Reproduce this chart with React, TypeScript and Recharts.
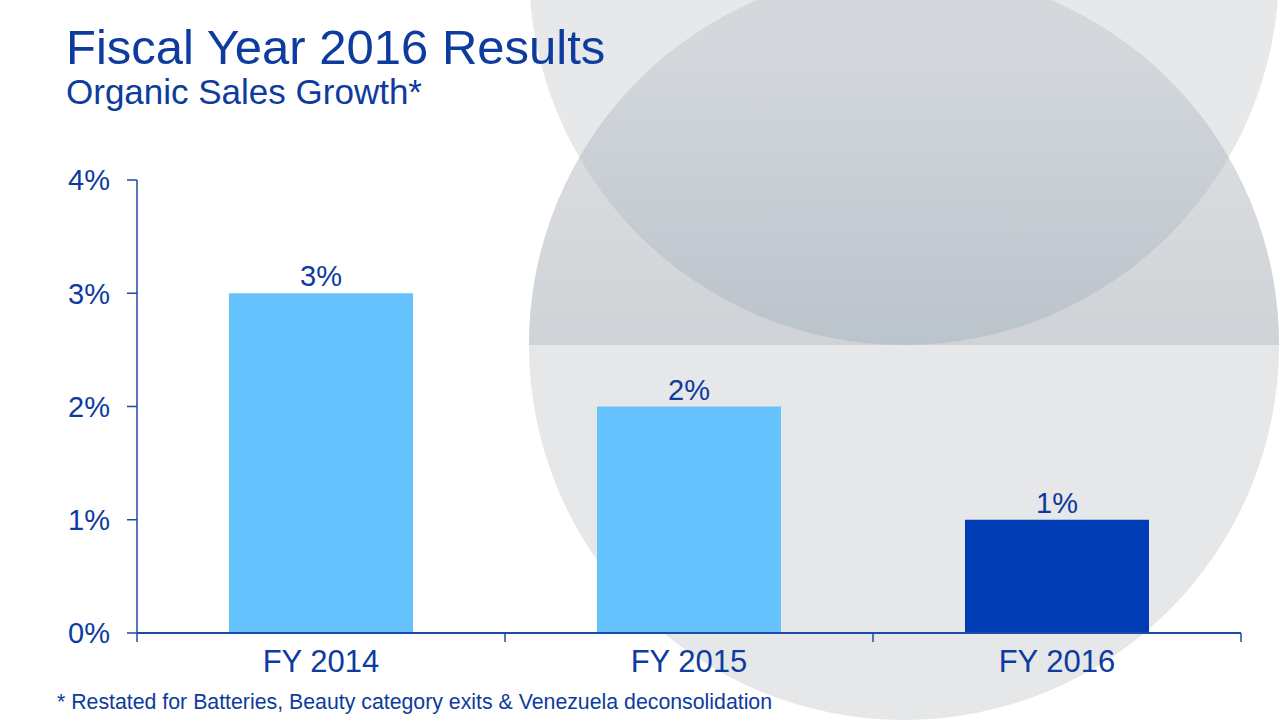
import { Bar, BarChart, Cell, LabelList, XAxis, YAxis } from "recharts"

const categories = ["FY 2014", "FY 2015", "FY 2016"]
const growth = [3, 2, 1]
const barColors = ["#66c2fd", "#66c2fd", "#003cb4"]
const yTicks = [0, 1, 2, 3, 4]

const data = categories.map((name, i) => ({ name, growth: growth[i] }))

const blue = "#0d3b9e"
const axisBlue = "#1d4aa6"
const labelGap = 17

function Backdrop() {
  return (
    <svg width={1280} height={720} style={{ position: "absolute", left: 0, top: 0 }}>
      <defs>
        <clipPath id="upperHalf">
          <rect x={0} y={0} width={1280} height={345} />
        </clipPath>
        <clipPath id="topCircle">
          <circle cx={904} cy={-30} r={375} />
        </clipPath>
        <linearGradient id="gradUpper" x1="0" y1="0" x2="0" y2="1">
          <stop offset="0.1" stopColor="#e0e2e5" />
          <stop offset="0.5" stopColor="#cfd2d6" />
        </linearGradient>
        <linearGradient id="gradOverlap" x1="0" y1="0" x2="0" y2="1">
          <stop offset="0.1" stopColor="#d4d8dd" />
          <stop offset="0.5" stopColor="#bbc3cb" />
        </linearGradient>
      </defs>
      <circle cx={904} cy={-30} r={375} fill="#e7e8ea" />
      <circle cx={904} cy={345} r={375} fill="#e6e7e9" />
      <g clipPath="url(#upperHalf)">
        <circle cx={904} cy={345} r={375} fill="url(#gradUpper)" />
        <g clipPath="url(#topCircle)">
          <circle cx={904} cy={345} r={375} fill="url(#gradOverlap)" />
        </g>
      </g>
      <text x={66} y={64} fontSize={49} fill={blue}>Fiscal Year 2016 Results</text>
      <text x={66} y={104} fontSize={35} fill={blue}>Organic Sales Growth*</text>
      <text x={57} y={709} fontSize={21.3} fill={blue}>
        * Restated for Batteries, Beauty category exits &amp; Venezuela deconsolidation
      </text>
    </svg>
  )
}

// category label plus tick marks on the band edges
function CategoryTick(props: any) {
  const { x, y, payload, index, visibleTicksCount } = props
  const half = payload.offset ?? 0
  const axisY = y - labelGap
  const last = index === visibleTicksCount - 1
  return (
    <g>
      <line x1={x - half} x2={x - half} y1={axisY} y2={axisY + 9} stroke={axisBlue} strokeWidth={1.5} />
      {last && (
        <line x1={x + half} x2={x + half} y1={axisY} y2={axisY + 9} stroke={axisBlue} strokeWidth={1.5} />
      )}
      <text x={x} y={y} dy="0.71em" textAnchor="middle" fill={blue} fontSize={31}>
        {payload.value}
      </text>
    </g>
  )
}

export default function App() {
  return (
    <div
      style={{
        position: "absolute",
        left: 0,
        top: 0,
        width: 1280,
        height: 720,
        background: "#ffffff",
        fontFamily: '"Liberation Sans", Arial, sans-serif',
        overflow: "hidden",
      }}
    >
      <Backdrop />
      <div style={{ position: "absolute", left: 0, top: 0 }}>
        <BarChart
          width={1280}
          height={720}
          data={data}
          margin={{ top: 180, right: 39, left: 0, bottom: 37 }}
          barCategoryGap="25%"
        >
          <XAxis
            dataKey="name"
            height={50}
            tickLine={false}
            tickSize={0}
            tickMargin={labelGap}
            axisLine={{ stroke: axisBlue, strokeWidth: 2 }}
            tick={<CategoryTick />}
          />
          <YAxis
            width={137}
            domain={[0, 4]}
            ticks={yTicks}
            tickFormatter={(v: number) => `${v}%`}
            tickSize={10}
            tickMargin={17}
            axisLine={{ stroke: axisBlue, strokeWidth: 1.5 }}
            tickLine={{ stroke: axisBlue, strokeWidth: 1.5 }}
            tick={{ fill: blue, fontSize: 29 }}
          />
          <Bar dataKey="growth" isAnimationActive={false}>
            {data.map((d, i) => (
              <Cell key={d.name} fill={barColors[i]} />
            ))}
            <LabelList
              dataKey="growth"
              position="top"
              offset={7}
              formatter={(v: number) => `${v}%`}
              fill={blue}
              fontSize={29}
            />
          </Bar>
        </BarChart>
      </div>
    </div>
  )
}
